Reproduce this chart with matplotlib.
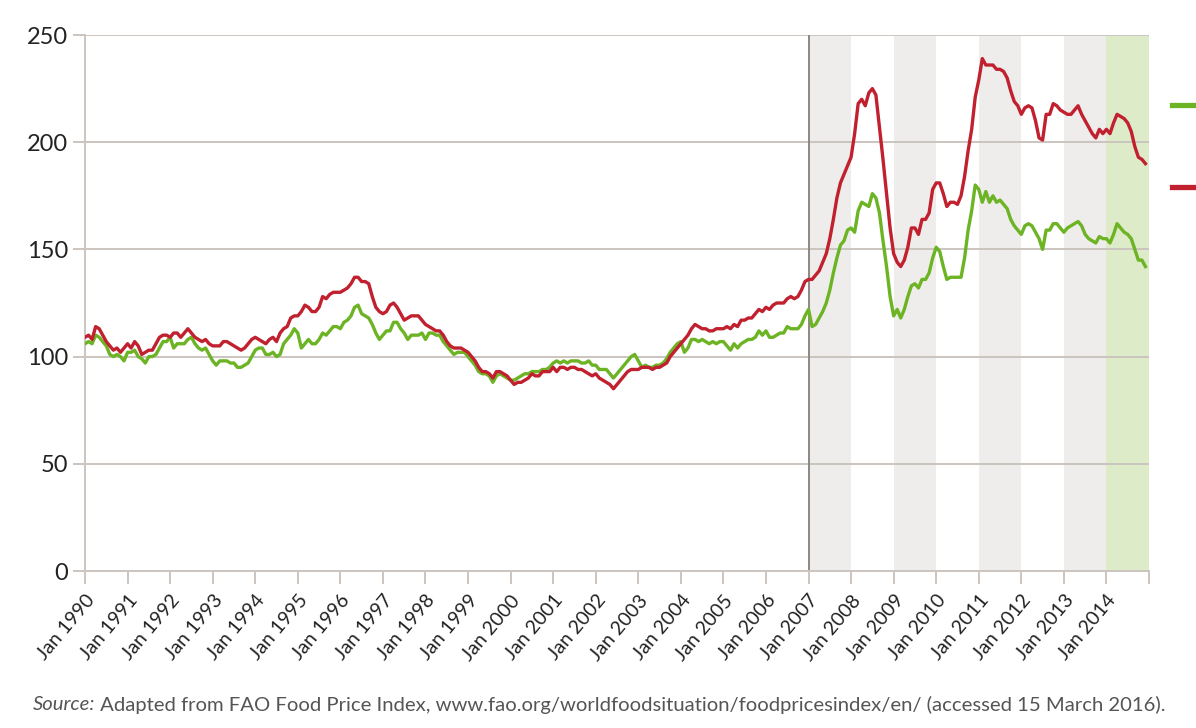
import matplotlib
matplotlib.use("Agg")
import matplotlib.pyplot as plt
from matplotlib.lines import Line2D
import numpy as np

# monthly FAO food price index, Jan 1990 - Dec 2014
nominal_ffpi = [
    109, 110, 108, 114, 113, 110, 107, 105, 103, 104, 102, 104,  # 1990
    106, 104, 107, 105, 101, 102, 103, 103, 106, 109, 110, 110,  # 1991
    109, 111, 111, 109, 111, 113, 111, 109, 108, 107, 108, 106,  # 1992
    105, 105, 105, 107, 107, 106, 105, 104, 103, 104, 106, 108,  # 1993
    109, 108, 107, 106, 108, 109, 107, 111, 113, 114, 118, 119,  # 1994
    119, 121, 124, 123, 121, 121, 123, 128, 127, 129, 130, 130,  # 1995
    130, 131, 132, 134, 137, 137, 135, 135, 134, 128, 123, 121,  # 1996
    120, 121, 124, 125, 123, 120, 117, 118, 119, 119, 119, 117,  # 1997
    115, 114, 113, 112, 112, 110, 107, 105, 104, 104, 104, 103,  # 1998
    102, 100, 98, 95, 93, 93, 92, 90, 93, 93, 92, 91,            # 1999
    89, 87, 88, 88, 89, 90, 92, 91, 91, 93, 93, 93,              # 2000
    95, 93, 95, 95, 94, 95, 95, 94, 94, 93, 92, 91,              # 2001
    92, 90, 89, 88, 87, 85, 87, 89, 91, 93, 94, 94,              # 2002
    94, 95, 95, 95, 94, 95, 95, 96, 97, 100, 102, 104,           # 2003
    106, 108, 110, 113, 115, 114, 113, 113, 112, 112, 113, 113,  # 2004
    113, 114, 113, 115, 114, 117, 117, 118, 118, 120, 122, 121,  # 2005
    123, 122, 124, 125, 125, 125, 127, 128, 127, 128, 131, 135,  # 2006
    136, 136, 138, 140, 144, 148, 155, 164, 174, 181, 185, 189,  # 2007
    193, 204, 218, 220, 217, 223, 225, 222, 207, 192, 176, 160,  # 2008
    148, 144, 142, 145, 151, 160, 160, 157, 164, 164, 167, 178,  # 2009
    181, 181, 176, 170, 172, 172, 171, 175, 184, 196, 206, 221,  # 2010
    229, 239, 236, 236, 236, 234, 234, 233, 230, 224, 219, 217,  # 2011
    213, 216, 217, 216, 210, 202, 201, 213, 213, 218, 217, 215,  # 2012
    214, 213, 213, 215, 217, 213, 210, 207, 204, 202, 206, 204,  # 2013
    206, 204, 209, 213, 212, 211, 209, 205, 198, 193, 192, 190,  # 2014
]

real_ffpi = [
    106, 107, 106, 110, 109, 107, 105, 101, 100, 101, 100, 98,   # 1990
    102, 102, 103, 100, 99, 97, 100, 100, 101, 104, 107, 107,    # 1991
    109, 104, 106, 106, 106, 108, 109, 106, 104, 103, 104, 101,  # 1992
    98, 96, 98, 98, 98, 97, 97, 95, 95, 96, 97, 100,             # 1993
    103, 104, 104, 101, 101, 102, 100, 101, 106, 108, 110, 113,  # 1994
    111, 104, 106, 108, 106, 106, 108, 111, 110, 112, 114, 114,  # 1995
    113, 116, 117, 119, 123, 124, 120, 119, 118, 115, 111, 108,  # 1996
    110, 112, 112, 116, 116, 113, 111, 108, 110, 110, 110, 111,  # 1997
    108, 111, 111, 110, 110, 107, 105, 103, 101, 102, 102, 102,  # 1998
    100, 98, 96, 93, 92, 92, 91, 88, 91, 92, 91, 90,             # 1999
    89, 89, 90, 91, 92, 92, 93, 93, 93, 94, 94, 95,              # 2000
    97, 98, 97, 98, 97, 98, 98, 98, 97, 97, 98, 96,              # 2001
    96, 94, 94, 94, 92, 90, 92, 94, 96, 98, 100, 101,            # 2002
    98, 95, 96, 95, 95, 96, 96, 97, 99, 102, 104, 106,           # 2003
    107, 102, 104, 108, 108, 107, 108, 107, 106, 107, 106, 107,  # 2004
    107, 105, 103, 106, 104, 106, 107, 108, 108, 109, 112, 110,  # 2005
    112, 109, 109, 110, 111, 111, 114, 113, 113, 113, 115, 119,  # 2006
    122, 114, 115, 118, 121, 125, 131, 139, 146, 152, 154, 159,  # 2007
    160, 158, 168, 172, 171, 170, 176, 174, 167, 154, 142, 128,  # 2008
    119, 122, 118, 122, 128, 133, 134, 132, 136, 136, 139, 146,  # 2009
    151, 149, 142, 136, 137, 137, 137, 137, 146, 159, 168, 180,  # 2010
    178, 172, 177, 172, 175, 172, 173, 171, 169, 164, 161, 159,  # 2011
    157, 161, 162, 161, 158, 155, 150, 159, 159, 162, 162, 160,  # 2012
    158, 160, 161, 162, 163, 161, 157, 155, 154, 153, 156, 155,  # 2013
    155, 153, 157, 162, 160, 158, 157, 155, 150, 145, 145, 142,  # 2014
]

years = list(range(1990, 2016))
tick_labels = [f"Jan {y}" for y in years[:-1]] + [""]
grey_years = [2007, 2009, 2011, 2013]
green_years = [2014]
marker_year = 2007

green = "#6cb424"
red = "#c1202f"
grid_col = "#cbc4bf"
text_col = "#222222"

plt.rcParams["font.family"] = ["Lato", "DejaVu Sans"]

fig = plt.figure(figsize=(11.96, 7.28), dpi=100)
ax = fig.add_axes([85 / 1196, 1 - 571 / 728, (1149 - 85) / 1196, (571 - 35) / 728])

months = np.arange(len(nominal_ffpi))

def to_x(year):
    return (year - 1990) * 12

for y in grey_years:
    ax.axvspan(to_x(y), to_x(y + 1), color="#efedeb", lw=0, zorder=0)
for y in green_years:
    ax.axvspan(to_x(y), to_x(y + 1), color="#deebc9", lw=0, zorder=0)

ax.set_ylim(0, 250)
ax.set_xlim(0, to_x(2015))
ax.set_yticks([0, 50, 100, 150, 200, 250])
ax.yaxis.grid(True, color=grid_col, lw=1.4, zorder=1)
ax.set_axisbelow(True)
ax.axvline(to_x(marker_year), color="#8e8782", lw=1.4, zorder=2)

ax.plot(months, nominal_ffpi, color=red, lw=2.4, zorder=4)
ax.plot(months, real_ffpi, color=green, lw=2.4, zorder=3)

ax.set_xticks([to_x(y) for y in years])
ax.set_xticklabels(tick_labels, rotation=50, ha="right", rotation_mode="anchor",
                   fontsize=14, color=text_col)
for lab in ax.get_yticklabels():
    lab.set_fontsize(17)
    lab.set_color(text_col)

for side in ["top", "right"]:
    ax.spines[side].set_visible(False)
ax.spines["left"].set_color(grid_col)
ax.spines["bottom"].set_color(grid_col)
ax.spines["left"].set_linewidth(1.4)
ax.spines["bottom"].set_linewidth(1.4)
ax.tick_params(axis="both", color=grid_col, width=1.4, length=9)
ax.tick_params(axis="y", pad=3)
ax.tick_params(axis="x", pad=6)

# legend swatches (labels are cut off in the original)
fig.add_artist(Line2D([1172 / 1196, 1.0], [1 - 105 / 728] * 2, color=green, lw=3.8))
fig.add_artist(Line2D([1172 / 1196, 1.0], [1 - 187 / 728] * 2, color=red, lw=3.8))

src = fig.text(33 / 1196, 1 - 705 / 728, "Source:", style="italic", fontsize=14.6,
               color="#555555", va="center")
ax.annotate(" Adapted from FAO Food Price Index, www.fao.org/worldfoodsituation/foodpricesindex/en/ "
            "(accessed 15 March 2016).", xy=(1, 0.5), xycoords=src, va="center",
            fontsize=14.6, color="#555555")

fig.savefig("out.png", dpi=100)
